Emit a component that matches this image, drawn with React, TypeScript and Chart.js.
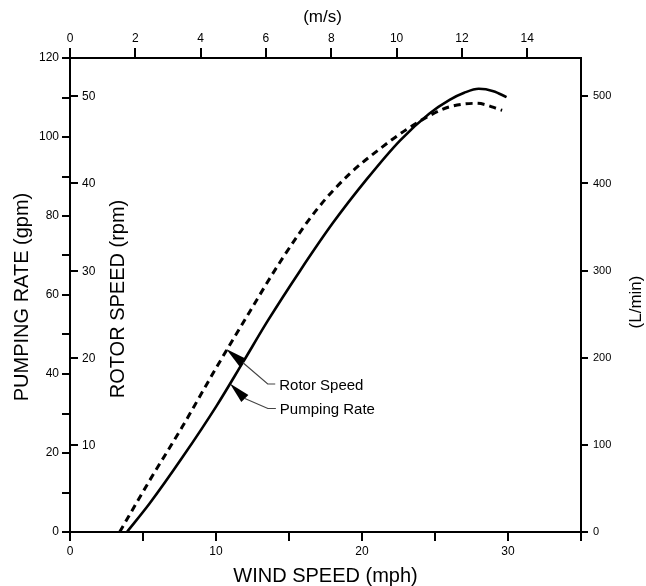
import React, { useEffect, useRef } from "react";
import { Chart, registerables } from "chart.js";

Chart.register(...registerables);

// ---------- data ----------
const WIND_MPH_PUMP = [3.9, 5.45, 7.7, 10.05, 11.85, 13.55, 15.75, 18.0, 20.3, 22.6, 24.6, 26.0, 27.0, 28.0, 29.0, 29.9];
const PUMP_GPM = [0, 7.2, 18.9, 32.0, 43.0, 53.5, 66.1, 78.2, 89.2, 99.1, 105.9, 109.4, 111.2, 112.2, 111.6, 110.1];

const WIND_MPH_ROTOR = [3.4, 5.45, 7.7, 10.0, 11.6, 14.55, 16.9, 19.15, 21.4, 23.05, 24.75, 26.0, 27.85, 29.6];
const ROTOR_RPM = [0, 5.9, 12.1, 18.8, 23.3, 31.4, 37.0, 41.1, 44.2, 46.2, 47.9, 48.8, 49.2, 48.4];

// axis ranges & ticks
const MPH_MAX = 35;
const MPH_TICKS = [0, 5, 10, 15, 20, 25, 30, 35];
const MPH_LABELS = [0, 10, 20, 30];
const MS_PER_MPH = 1 / 2.237;
const MS_TICKS = [0, 2, 4, 6, 8, 10, 12, 14];
const GPM_MAX = 120;
const GPM_TICKS = [0, 10, 20, 30, 40, 50, 60, 70, 80, 90, 100, 110, 120];
const GPM_LABELS = [0, 20, 40, 60, 80, 100, 120];
const RPM_MAX = 54.4;
const RPM_TICKS = [10, 20, 30, 40, 50];
const LPM_MAX = 544;
const LPM_TICKS = [0, 100, 200, 300, 400, 500];

// annotation anchors (data coordinates on the curves)
const ROTOR_NOTE = { label: "Rotor Speed", mph: 10.7, rpm: 21.0 };
const PUMP_NOTE = { label: "Pumping Rate", mph: 10.95, gpm: 37.6 };

const FONT = '"Liberation Sans", Arial, Helvetica, sans-serif';

function drawArrow(ctx: CanvasRenderingContext2D, tx: number, ty: number, bx: number, by: number, kx: number, ky: number, ex: number, ey: number) {
  // leader line
  ctx.strokeStyle = "#444";
  ctx.lineWidth = 1.2;
  ctx.beginPath();
  ctx.moveTo(bx, by);
  ctx.lineTo(kx, ky);
  ctx.lineTo(ex, ey);
  ctx.stroke();
  // arrow head
  const dx = bx - tx, dy = by - ty;
  const len = Math.hypot(dx, dy);
  const ux = dx / len, uy = dy / len;
  const hw = 5;
  ctx.fillStyle = "#000";
  ctx.beginPath();
  ctx.moveTo(tx, ty);
  ctx.lineTo(bx - uy * hw, by + ux * hw);
  ctx.lineTo(bx + uy * hw, by - ux * hw);
  ctx.closePath();
  ctx.fill();
}

const overlayPlugin = {
  id: "overlay",
  afterDraw(chart: any) {
    const ctx: CanvasRenderingContext2D = chart.ctx;
    const { left, right, top, bottom } = chart.chartArea;
    const rpm = chart.scales.rpm;
    const xs = chart.scales.x;
    const ys = chart.scales.y;
    ctx.save();

    // rotor speed ticks (inside the left axis)
    ctx.strokeStyle = "#000";
    ctx.lineWidth = 2;
    ctx.fillStyle = "#000";
    ctx.font = `12px ${FONT}`;
    ctx.textAlign = "left";
    ctx.textBaseline = "middle";
    for (const v of RPM_TICKS) {
      const py = Math.round(rpm.getPixelForValue(v));
      ctx.beginPath();
      ctx.moveTo(left, py);
      ctx.lineTo(left + 8, py);
      ctx.stroke();
      ctx.fillText(String(v), left + 12, py + 0.5);
    }

    const midY = (top + bottom) / 2;
    const midX = (left + right) / 2;

    // titles
    ctx.font = `20px ${FONT}`;
    ctx.textAlign = "center";
    ctx.textBaseline = "middle";
    ctx.save();
    ctx.translate(22, midY + 2);
    ctx.rotate(-Math.PI / 2);
    ctx.fillText("PUMPING RATE (gpm)", 0, 0);
    ctx.restore();

    ctx.save();
    ctx.translate(left + 48, midY + 4);
    ctx.rotate(-Math.PI / 2);
    ctx.fillText("ROTOR SPEED (rpm)", 0, 0);
    ctx.restore();

    ctx.fillText("WIND SPEED (mph)", midX, 576);

    ctx.font = `17px ${FONT}`;
    ctx.fillText("(m/s)", midX - 3, 17);
    ctx.save();
    ctx.translate(636, midY + 7);
    ctx.rotate(-Math.PI / 2);
    ctx.fillText("(L/min)", 0, 0);
    ctx.restore();

    // annotations
    const rtx = xs.getPixelForValue(ROTOR_NOTE.mph);
    const rty = rpm.getPixelForValue(ROTOR_NOTE.rpm);
    drawArrow(ctx, rtx, rty, rtx + 16.5, rty + 13.5, rtx + 41.5, rty + 35, rtx + 49, rty + 35);
    const ptx = xs.getPixelForValue(PUMP_NOTE.mph);
    const pty = ys.getPixelForValue(PUMP_NOTE.gpm);
    drawArrow(ctx, ptx, pty, ptx + 15, pty + 15, ptx + 38, pty + 25, ptx + 46, pty + 25);

    ctx.fillStyle = "#000";
    ctx.font = `15px ${FONT}`;
    ctx.textAlign = "left";
    ctx.textBaseline = "middle";
    ctx.fillText(ROTOR_NOTE.label, rtx + 53, rty + 37);
    ctx.fillText(PUMP_NOTE.label, ptx + 50, pty + 26);

    ctx.restore();
  },
};

export default function App() {
  const canvasRef = useRef<HTMLCanvasElement | null>(null);

  useEffect(() => {
    document.body.style.margin = "0";
    document.body.style.background = "#fff";
    const canvas = canvasRef.current;
    if (!canvas) return;

    Chart.defaults.color = "#000";
    Chart.defaults.font.family = FONT;

    const tickFont = { family: FONT, size: 12 };
    const gridOpts = { drawOnChartArea: false, drawTicks: true, color: "#000", lineWidth: 2 };
    const borderOpts = { display: true, color: "#000", width: 2 };

    const chart = new Chart(canvas, {
      type: "line",
      data: {
        datasets: [
          {
            label: "Pumping Rate",
            data: WIND_MPH_PUMP.map((x, i) => ({ x, y: PUMP_GPM[i] })),
            xAxisID: "x",
            yAxisID: "y",
            borderColor: "#000",
            borderWidth: 2.6,
            pointRadius: 0,
            fill: false,
            cubicInterpolationMode: "monotone",
          },
          {
            label: "Rotor Speed",
            data: WIND_MPH_ROTOR.map((x, i) => ({ x, y: ROTOR_RPM[i] })),
            xAxisID: "x",
            yAxisID: "rpm",
            borderColor: "#000",
            borderWidth: 3,
            borderDash: [7, 5],
            pointRadius: 0,
            fill: false,
            cubicInterpolationMode: "monotone",
          },
        ],
      },
      options: {
        animation: false,
        responsive: false,
        devicePixelRatio: 1,
        layout: { padding: 0 },
        plugins: { legend: { display: false }, tooltip: { enabled: false } },
        scales: {
          x: {
            type: "linear",
            position: "bottom",
            min: 0,
            max: MPH_MAX,
            afterBuildTicks: (s: any) => {
              s.ticks = MPH_TICKS.map((v) => ({ value: v }));
            },
            ticks: {
              font: tickFont,
              color: "#000",
              padding: 3,
              maxRotation: 0,
              autoSkip: false,
              callback: (v: any) => (MPH_LABELS.includes(Number(v)) ? String(v) : ""),
            },
            grid: { ...gridOpts, tickLength: 9 },
            border: borderOpts,
            afterFit: (s: any) => {
              s.height = 54;
            },
          },
          x2: {
            type: "linear",
            position: "top",
            min: 0,
            max: MPH_MAX * MS_PER_MPH,
            afterBuildTicks: (s: any) => {
              s.ticks = MS_TICKS.map((v) => ({ value: v }));
            },
            ticks: {
              font: tickFont,
              color: "#000",
              padding: 2,
              maxRotation: 0,
              autoSkip: false,
              callback: (v: any) => String(v),
            },
            grid: { ...gridOpts, tickLength: 10 },
            border: borderOpts,
            afterFit: (s: any) => {
              s.height = 58;
            },
          },
          y: {
            type: "linear",
            position: "left",
            min: 0,
            max: GPM_MAX,
            afterBuildTicks: (s: any) => {
              s.ticks = GPM_TICKS.map((v) => ({ value: v }));
            },
            ticks: {
              font: tickFont,
              color: "#000",
              padding: 3,
              autoSkip: false,
              callback: (v: any) => (GPM_LABELS.includes(Number(v)) ? String(v) : ""),
            },
            grid: { ...gridOpts, tickLength: 8 },
            border: borderOpts,
            afterFit: (s: any) => {
              s.width = 70;
            },
          },
          rpm: {
            type: "linear",
            position: "left",
            display: false,
            min: 0,
            max: RPM_MAX,
          },
          yR: {
            type: "linear",
            position: "right",
            min: 0,
            max: LPM_MAX,
            afterBuildTicks: (s: any) => {
              s.ticks = LPM_TICKS.map((v) => ({ value: v }));
            },
            ticks: {
              font: { family: FONT, size: 11 },
              color: "#000",
              padding: 5,
              autoSkip: false,
              callback: (v: any) => String(v),
            },
            grid: { ...gridOpts, tickLength: 7 },
            border: borderOpts,
            afterFit: (s: any) => {
              s.width = 65;
            },
          },
        },
      } as any,
      plugins: [overlayPlugin],
    });

    return () => {
      chart.destroy();
    };
  }, []);

  return (
    <div style={{ width: 646, height: 586, background: "#fff" }}>
      <canvas ref={canvasRef} width={646} height={586} style={{ display: "block", width: 646, height: 586 }} />
    </div>
  );
}
